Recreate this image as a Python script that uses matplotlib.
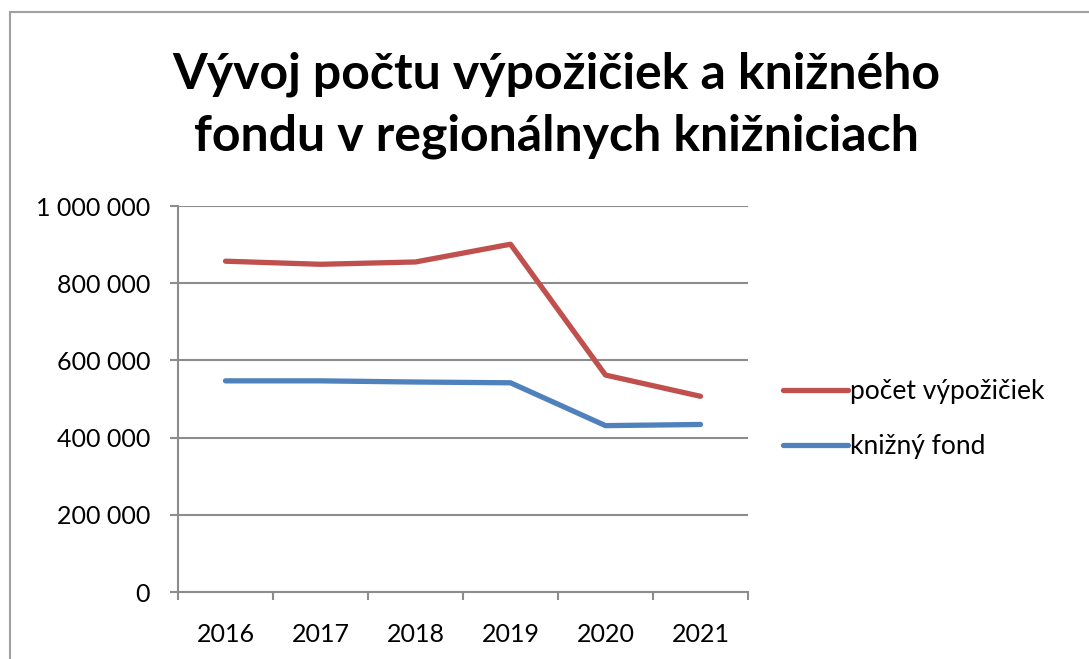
import matplotlib.pyplot as plt
import numpy as np
from matplotlib.patches import Rectangle
from matplotlib.ticker import FuncFormatter, FixedLocator

plt.rcParams["font.family"] = ["Lato", "DejaVu Sans"]

years = ["2016", "2017", "2018", "2019", "2020", "2021"]
vypozicky = [857000, 849000, 855000, 901000, 562000, 507000]
fond = [547000, 547000, 544000, 542000, 431000, 434000]

RED = "#C0504D"
BLUE = "#4F81BD"
GRID = "#8C8C8C"


def space_thousands(v, pos):
    return f"{int(round(v)):,}".replace(",", " ")


def main():
    fig = plt.figure(figsize=(10.89, 6.59), dpi=100)

    # chart-area border (only top and left edges visible in the crop)
    fig.patches.append(Rectangle((10 / 1089, -0.1), 1.2, 1 - 12 / 659 + 0.1,
                                 transform=fig.transFigure, fill=False,
                                 edgecolor="#A0A0A0", linewidth=1.5))

    ax = fig.add_axes([178 / 1089, 1 - 592 / 659, (748 - 178) / 1089, (592 - 206) / 659])
    x = np.arange(len(years))
    ax.plot(x, vypozicky, color=RED, linewidth=3.8, solid_capstyle="round",
            label="počet výpožičiek")
    ax.plot(x, fond, color=BLUE, linewidth=3.8, solid_capstyle="round",
            label="knižný fond")

    ax.set_xlim(-0.5, len(years) - 0.5)
    ax.set_ylim(0, 1000000)
    ax.set_yticks(np.arange(0, 1000001, 200000))
    ax.yaxis.set_major_formatter(FuncFormatter(space_thousands))
    ax.yaxis.grid(True, color=GRID, linewidth=1.5)
    ax.set_axisbelow(True)

    ax.set_xticks(x)
    ax.set_xticklabels(years)
    ax.xaxis.set_minor_locator(FixedLocator(np.arange(-0.5, len(years), 1.0)))
    ax.tick_params(axis="x", which="major", length=0, pad=22, labelsize=18)
    ax.tick_params(axis="x", which="minor", length=6, width=1.5, color=GRID,
                   direction="out")
    ax.tick_params(axis="y", length=6, width=1.5, color=GRID, direction="out",
                   pad=14, labelsize=18)

    for side in ("top", "right"):
        ax.spines[side].set_visible(False)
    for side in ("left", "bottom"):
        ax.spines[side].set_color(GRID)
        ax.spines[side].set_linewidth(1.5)

    fig.text(556 / 1089, 1 - 105 / 659,
             "Vývoj počtu výpožičiek a knižného\nfondu v regionálnych knižniciach",
             ha="center", va="center", fontsize=36, fontweight="bold",
             linespacing=1.45)

    fig.legend(loc="center left", bbox_to_anchor=(759 / 1089, 1 - 419 / 659),
               frameon=False, fontsize=19, handlelength=2.46,
               handletextpad=0.1, labelspacing=1.12)

    fig.savefig("out.png", dpi=100)
    plt.close(fig)


if __name__ == "__main__":
    main()
